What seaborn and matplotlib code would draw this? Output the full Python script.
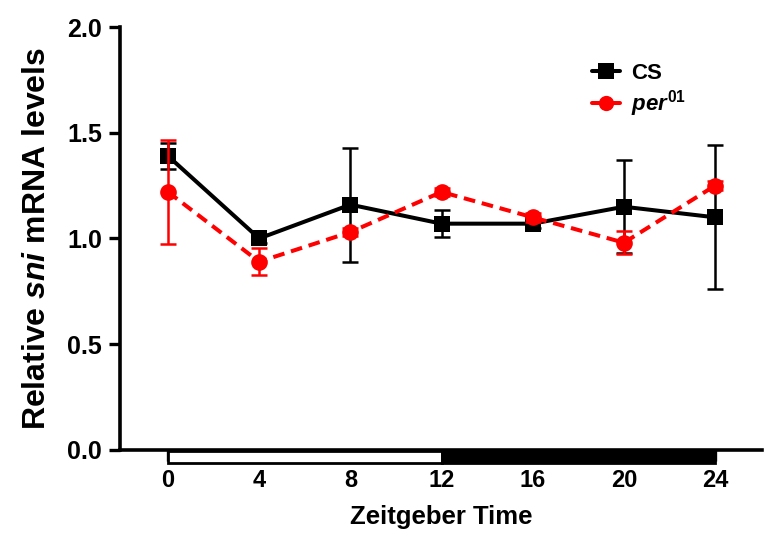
import numpy as np
import pandas as pd
import matplotlib
matplotlib.use("Agg")
import matplotlib.pyplot as plt
import matplotlib.transforms as mtransforms
from matplotlib.patches import Rectangle
import seaborn as sns

# ---- data ----
zt = [0, 4, 8, 12, 16, 20, 24]
cs_mean = [1.39, 1.00, 1.16, 1.07, 1.07, 1.15, 1.10]
cs_err = [0.06, 0.02, 0.27, 0.065, 0.02, 0.22, 0.34]
per_mean = [1.22, 0.89, 1.03, 1.22, 1.10, 0.98, 1.25]
per_err = [0.245, 0.065, 0.02, 0.02, 0.02, 0.055, 0.02]
x_ticks = [0, 4, 8, 12, 16, 20, 24]
y_ticks = [0.0, 0.5, 1.0, 1.5, 2.0]
y_tick_labels = ["0.0", "0.5", "1.0", "1.5", "2.0"]
ld_start = [0, 12]
ld_end = [12, 24]
ld_color = ["white", "black"]

sns.set_style("ticks")
plt.rcParams["font.family"] = ["Liberation Sans", "DejaVu Sans"]
plt.rcParams["font.weight"] = "bold"
plt.rcParams["mathtext.fontset"] = "custom"
plt.rcParams["mathtext.it"] = "Liberation Sans:italic:bold"
plt.rcParams["mathtext.rm"] = "Liberation Sans:bold"
plt.rcParams["mathtext.bf"] = "Liberation Sans:bold"
for k in ["text.color", "axes.labelcolor", "xtick.color", "ytick.color",
          "axes.edgecolor"]:
    plt.rcParams[k] = "black"

fig = plt.figure(figsize=(7.8, 5.46), dpi=100)
ax = fig.add_axes([0.154, 0.176, 0.823, 0.7745])

df_cs = pd.DataFrame({"zt": zt, "val": cs_mean})
df_per = pd.DataFrame({"zt": zt, "val": per_mean})

red = "#ff0000"
# CS
ax.errorbar(zt, cs_mean, yerr=cs_err, fmt="none", ecolor="black",
            elinewidth=1.8, capsize=6, capthick=1.8, zorder=3, clip_on=False)
sns.lineplot(data=df_cs, x="zt", y="val", ax=ax, color="black", lw=2.9,
             marker="s", markersize=12, markeredgewidth=0, label="CS",
             zorder=4, clip_on=False)
# per01
ax.errorbar(zt, per_mean, yerr=per_err, fmt="none", ecolor=red,
            elinewidth=1.8, capsize=6, capthick=1.8, zorder=5, clip_on=False)
sns.lineplot(data=df_per, x="zt", y="val", ax=ax, color=red, lw=2.9,
             marker="o", markersize=12, markeredgewidth=0,
             label=r"$\mathit{per}^{\mathit{01}}$", zorder=6, clip_on=False)
ax.lines[-1].set_dashes([2.9, 1.7])

# Light/dark bar under x axis
trans = mtransforms.blended_transform_factory(ax.transData, ax.transAxes)
for s, e, c in zip(ld_start, ld_end, ld_color):
    ax.add_patch(Rectangle((s, -0.032), e - s, 0.030, transform=trans,
                           facecolor=c, edgecolor="black", lw=2.0,
                           clip_on=False, zorder=2))

ax.set_xlim(-2.1, 26.06)
ax.set_ylim(0, 2.0)
ax.set_xticks(x_ticks)
ax.set_xticklabels([str(t) for t in x_ticks], fontsize=17, fontweight="bold")
ax.set_yticks(y_ticks)
ax.set_yticklabels(y_tick_labels, fontsize=18, fontweight="bold")
ax.tick_params(axis="y", direction="out", length=8, width=2.4, pad=5)
ax.tick_params(axis="x", direction="out", length=8, width=2.4, pad=6)

for side in ["top", "right"]:
    ax.spines[side].set_visible(False)
for side in ["left", "bottom"]:
    ax.spines[side].set_linewidth(2.6)

ax.set_xlabel("Zeitgeber Time", fontsize=18.5, fontweight="bold", labelpad=9)
ax.set_ylabel(r"Relative $\mathit{sni}$ mRNA levels", fontsize=23,
              fontweight="bold", labelpad=11)

leg = ax.legend(loc="upper left", bbox_to_anchor=(0.735, 0.915), frameon=False,
                fontsize=16, handlelength=1.25, handletextpad=0.5,
                labelspacing=0.2, borderaxespad=0, borderpad=0)
for h in leg.get_lines():
    h.set_markersize(11)
    h.set_linestyle("-")

fig.savefig("out.png", dpi=100)
